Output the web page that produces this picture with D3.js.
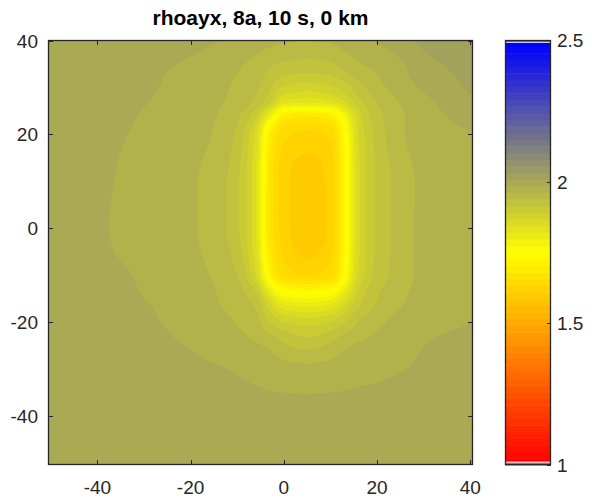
<!DOCTYPE html>
<html>
<head>
<meta charset="utf-8">
<script src="https://cdn.jsdelivr.net/npm/d3@7/dist/d3.min.js"></script>
<style>
  body { margin: 0; background: #fff; }
  text { font-family: "Liberation Sans", Arial, Helvetica, sans-serif; fill: #262626; }
</style>
</head>
<body>
<svg id="chart" width="592" height="500"></svg>
<script>
var title = 'rhoayx, 8a, 10 s, 0 km'

// grid nodes (km) and rhoayx values
var xNodes = [-50, -40, -30, -20, -15, -10, -6, -3, 0, 5, 10, 13, 16, 20, 25, 30, 40]
var yNodes = [40, 35, 30, 27, 24, 20, 10, 0, -10, -13, -16, -20, -25, -30, -40, -50]
var rho = [
  [2.000, 2.000, 1.997, 1.993, 1.990, 1.985, 1.978, 1.972, 1.968, 1.965, 1.968, 1.975, 1.983, 1.990, 2.003, 2.018, 2.030],
  [2.000, 1.998, 1.992, 1.986, 1.979, 1.968, 1.958, 1.945, 1.937, 1.933, 1.937, 1.950, 1.962, 1.972, 1.985, 2.004, 2.022],
  [2.000, 1.997, 1.991, 1.980, 1.972, 1.960, 1.945, 1.920, 1.890, 1.880, 1.890, 1.905, 1.930, 1.955, 1.977, 1.992, 2.015],
  [2.000, 1.995, 1.989, 1.978, 1.969, 1.957, 1.935, 1.900, 1.840, 1.830, 1.840, 1.870, 1.910, 1.942, 1.966, 1.982, 2.008],
  [2.000, 1.994, 1.987, 1.975, 1.966, 1.945, 1.900, 1.800, 1.700, 1.680, 1.700, 1.780, 1.880, 1.932, 1.960, 1.978, 1.998],
  [2.000, 1.993, 1.985, 1.972, 1.963, 1.935, 1.860, 1.700, 1.640, 1.625, 1.635, 1.730, 1.870, 1.925, 1.960, 1.976, 1.987],
  [2.000, 1.992, 1.980, 1.967, 1.956, 1.922, 1.845, 1.670, 1.615, 1.595, 1.615, 1.720, 1.860, 1.920, 1.950, 1.970, 1.980],
  [2.000, 1.991, 1.978, 1.967, 1.955, 1.922, 1.845, 1.670, 1.620, 1.590, 1.615, 1.720, 1.860, 1.920, 1.950, 1.970, 1.978],
  [2.000, 1.993, 1.986, 1.971, 1.962, 1.940, 1.870, 1.720, 1.645, 1.630, 1.645, 1.740, 1.870, 1.925, 1.952, 1.970, 1.980],
  [2.000, 1.994, 1.987, 1.973, 1.965, 1.948, 1.910, 1.800, 1.730, 1.715, 1.730, 1.800, 1.890, 1.935, 1.957, 1.972, 1.983],
  [2.000, 1.995, 1.989, 1.977, 1.967, 1.955, 1.935, 1.870, 1.815, 1.800, 1.815, 1.860, 1.910, 1.942, 1.962, 1.974, 1.985],
  [2.000, 1.996, 1.991, 1.981, 1.972, 1.963, 1.948, 1.915, 1.893, 1.882, 1.893, 1.915, 1.940, 1.958, 1.972, 1.980, 1.988],
  [2.000, 1.997, 1.993, 1.987, 1.980, 1.973, 1.967, 1.960, 1.945, 1.932, 1.945, 1.960, 1.967, 1.972, 1.980, 1.988, 1.995],
  [2.000, 1.998, 1.996, 1.993, 1.990, 1.986, 1.981, 1.977, 1.973, 1.970, 1.973, 1.977, 1.980, 1.983, 1.987, 1.991, 1.995],
  [2.000, 2.000, 2.000, 1.999, 1.998, 1.997, 1.997, 1.996, 1.996, 1.996, 1.996, 1.996, 1.997, 1.997, 1.998, 1.999, 2.000],
  [2.000, 2.000, 2.000, 2.000, 2.000, 2.000, 2.000, 2.000, 2.000, 2.000, 2.000, 2.000, 2.000, 2.000, 2.000, 2.000, 2.000]
]

var xTicks = [-40, -20, 0, 20, 40]
var yTicks = [-40, -20, 0, 20, 40]
var cbTicks = [1, 1.5, 2, 2.5]
var cLim = [1, 2.5]
var cmapStops = ['#ff0000', '#ffff00', '#0000ff']
var nColors = 64

var svg = d3.select('#chart')
var ink = '#262626'

var plot = { left: 48, right: 473, top: 40, bottom: 465 }
var xScale = d3.scaleLinear().domain([-50.6, 40.6]).range([plot.left, plot.right])
var yScale = d3.scaleLinear().domain([-50.5, 40]).range([plot.bottom, plot.top + 0.5])

// 64 entry colormap, red -> yellow -> blue, nearest entry
var ramp = d3.piecewise(d3.interpolateRgb, cmapStops)
var cmap = d3.range(nColors).map(function (k) { return d3.rgb(ramp(k / (nColors - 1))) })
var cIndex = d3.scaleLinear().domain(cLim).range([0, nColors - 1]).clamp(true)
function colorIndex(v) { return Math.round(cIndex(v)) }

// smooth (monotone cubic) interpolation between the grid nodes
function slopes(xs, ys) {
  var n = xs.length, h = [], d = [], m = new Array(n)
  for (let k = 0; k < n - 1; k++) {
    h[k] = xs[k + 1] - xs[k]
    d[k] = (ys[k + 1] - ys[k]) / h[k]
  }
  m[0] = d[0]
  m[n - 1] = d[n - 2]
  for (let k = 1; k < n - 1; k++) {
    if (d[k - 1] * d[k] <= 0) { m[k] = 0; continue }
    let w1 = 2 * h[k] + h[k - 1], w2 = h[k] + 2 * h[k - 1]
    m[k] = (w1 + w2) / (w1 / d[k - 1] + w2 / d[k])
  }
  return m
}
function hermite(xs, ys, m, x) {
  x = Math.max(xs[0], Math.min(xs[xs.length - 1], x))
  var k = Math.min(xs.length - 2, Math.max(0, d3.bisectRight(xs, x) - 1))
  var h = xs[k + 1] - xs[k], t = (x - xs[k]) / h
  var t2 = t * t, t3 = t2 * t
  return (2 * t3 - 3 * t2 + 1) * ys[k] + (t3 - 2 * t2 + t) * h * m[k] +
    (-2 * t3 + 3 * t2) * ys[k + 1] + (t3 - t2) * h * m[k + 1]
}

var yAsc = yNodes.slice().reverse()
var rowsAsc = rho.slice().reverse()
var rowSlopes = rowsAsc.map(function (row) { return slopes(xNodes, row) })

var pw = plot.right - plot.left, ph = plot.bottom - plot.top
var canvas = document.createElement('canvas')
canvas.width = pw
canvas.height = ph
var ctx = canvas.getContext('2d')
var img = ctx.createImageData(pw, ph)
for (let px = 0; px < pw; px++) {
  let x = xScale.invert(plot.left + px + 0.5)
  let col = rowsAsc.map(function (row, j) { return hermite(xNodes, row, rowSlopes[j], x) })
  let colSlopes = slopes(yAsc, col)
  for (let py = 0; py < ph; py++) {
    let v = hermite(yAsc, col, colSlopes, yScale.invert(plot.top + py + 0.5))
    let c = cmap[colorIndex(v)]
    let o = (py * pw + px) * 4
    img.data[o] = c.r
    img.data[o + 1] = c.g
    img.data[o + 2] = c.b
    img.data[o + 3] = 255
  }
}
ctx.putImageData(img, 0, 0)

svg.append('image')
  .attr('x', plot.left)
  .attr('y', plot.top)
  .attr('width', pw)
  .attr('height', ph)
  .attr('preserveAspectRatio', 'none')
  .attr('href', canvas.toDataURL())

// axes box with ticks on all sides
var axes = svg.append('g')
axes.append('rect')
  .attr('x', plot.left + 0.5).attr('y', plot.top + 0.5)
  .attr('width', pw - 1).attr('height', ph - 1)
  .attr('fill', 'none').attr('stroke', ink).attr('stroke-width', 1.3)

var tl = 5
var fs = 19
xTicks.forEach(function (t) {
  var x = Math.round(xScale(t)) + 0.5
  axes.append('line').attr('x1', x).attr('x2', x).attr('y1', plot.bottom).attr('y2', plot.bottom - tl).attr('stroke', ink)
  axes.append('line').attr('x1', x).attr('x2', x).attr('y1', plot.top).attr('y2', plot.top + tl).attr('stroke', ink)
  axes.append('text').attr('x', xScale(t)).attr('y', 494)
    .attr('text-anchor', 'middle').attr('font-size', fs).text(t)
})
yTicks.forEach(function (t) {
  var y = Math.round(yScale(t)) + 0.5
  axes.append('line').attr('x1', plot.left).attr('x2', plot.left + tl).attr('y1', y).attr('y2', y).attr('stroke', ink)
  axes.append('line').attr('x1', plot.right).attr('x2', plot.right - tl).attr('y1', y).attr('y2', y).attr('stroke', ink)
  axes.append('text').attr('x', 38).attr('y', yScale(t) + 7)
    .attr('text-anchor', 'end').attr('font-size', fs).text(t)
})

svg.append('text')
  .attr('x', (plot.left + plot.right) / 2).attr('y', 25)
  .attr('text-anchor', 'middle').attr('font-size', 21).attr('font-weight', 'bold')
  .style('fill', '#000')
  .text(title)

// colorbar
var cb = { left: 505, right: 551, top: 40, bottom: 465 }
var cScale = d3.scaleLinear().domain(cLim).range([cb.bottom, cb.top])
var bar = svg.append('g')
bar.selectAll('rect.band')
  .data(cmap)
  .enter().append('rect')
  .attr('class', 'band')
  .attr('x', cb.left)
  .attr('width', cb.right - cb.left)
  .attr('y', function (d, k) { return cScale(cLim[0] + (k + 1) * (cLim[1] - cLim[0]) / nColors) })
  .attr('height', function (d, k) {
    return cScale(cLim[0] + k * (cLim[1] - cLim[0]) / nColors) - cScale(cLim[0] + (k + 1) * (cLim[1] - cLim[0]) / nColors) + 0.5
  })
  .attr('fill', function (d) { return d })

bar.append('rect').attr('x', cb.left + 1).attr('y', cb.top + 1.5).attr('width', cb.right - cb.left - 2).attr('height', 1.5).attr('fill', '#c8c8ff')
bar.append('rect').attr('x', cb.left + 1).attr('y', cb.bottom - 3.5).attr('width', cb.right - cb.left - 2).attr('height', 2).attr('fill', '#ffc0c0')

bar.append('rect')
  .attr('x', cb.left + 0.5).attr('y', cb.top + 0.5)
  .attr('width', cb.right - cb.left - 1).attr('height', cb.bottom - cb.top - 1)
  .attr('fill', 'none').attr('stroke', ink).attr('stroke-width', 1.3)

cbTicks.forEach(function (t) {
  var y = Math.round(cScale(t)) + 0.5
  bar.append('line').attr('x1', cb.right).attr('x2', cb.right - 4).attr('y1', y).attr('y2', y).attr('stroke', ink)
  bar.append('text').attr('x', 557).attr('y', cScale(t) + 7)
    .attr('font-size', fs).text(t)
})
</script>
</body>
</html>
